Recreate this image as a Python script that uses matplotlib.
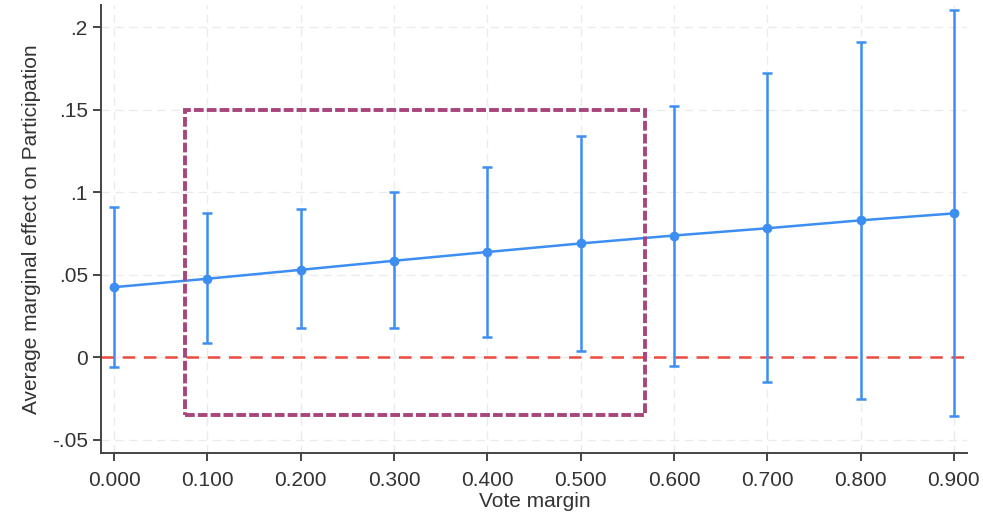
import matplotlib.pyplot as plt
from matplotlib.patches import Rectangle

plt.rcParams['font.family'] = ['Liberation Sans', 'DejaVu Sans']

# vote margin grid and the estimated average marginal effects with 95% CI
vote_margin = [0.0, 0.1, 0.2, 0.3, 0.4, 0.5, 0.6, 0.7, 0.8, 0.9]
ame = [0.0425, 0.0476, 0.0530, 0.0585, 0.0638, 0.0690, 0.0738, 0.0782, 0.0830, 0.0872]
ci_low = [-0.006, 0.0085, 0.0176, 0.0176, 0.012, 0.0036, -0.0055, -0.015, -0.0254, -0.0357]
ci_high = [0.0908, 0.0872, 0.0896, 0.1003, 0.1156, 0.1340, 0.1525, 0.1720, 0.1912, 0.2103]

x_ticks = [0.0, 0.1, 0.2, 0.3, 0.4, 0.5, 0.6, 0.7, 0.8, 0.9]
x_tick_labels = ["0.000", "0.100", "0.200", "0.300", "0.400", "0.500", "0.600", "0.700", "0.800", "0.900"]
y_ticks = [-0.05, 0, 0.05, 0.1, 0.15, 0.2]
y_tick_labels = ["-.05", "0", ".05", ".1", ".15", ".2"]

# highlighted region (vote margin range, effect range)
box_x = (0.076, 0.569)
box_y = (-0.035, 0.15)

fig = plt.figure(figsize=(9.83, 5.12), dpi=100)
ax = fig.add_axes([101 / 983, 59 / 512, 866 / 983, 448 / 512])

blue = '#3d8ef2'
err_low = [m - lo for m, lo in zip(ame, ci_low)]
err_high = [hi - m for m, hi in zip(ame, ci_high)]
ax.errorbar(vote_margin, ame, yerr=[err_low, err_high], color=blue, lw=1.8,
            elinewidth=1.8, capsize=3.5, capthick=1.8, marker='o', ms=6, zorder=3)

ax.axhline(0, color='#ec4b3f', lw=1.8, ls=(0, (5, 3.5)), zorder=2)

ax.add_patch(Rectangle((box_x[0], box_y[0]), box_x[1] - box_x[0], box_y[1] - box_y[0],
                       fill=False, edgecolor='#a8457c', lw=2.8, ls=(0, (2.5, 0.8)), zorder=4))

ax.set_xlim(-0.014, 0.914)
ax.set_ylim(-0.058, 0.2135)
ax.set_xticks(x_ticks)
ax.set_xticklabels(x_tick_labels)
ax.set_yticks(y_ticks)
ax.set_yticklabels(y_tick_labels)
ax.grid(True, color='#ebebeb', lw=1, ls=(0, (6, 4)))
ax.set_axisbelow(True)

for side in ['top', 'right']:
    ax.spines[side].set_visible(False)
for side in ['left', 'bottom']:
    ax.spines[side].set_color('#444444')
    ax.spines[side].set_linewidth(1.4)
ax.tick_params(colors='#444444', width=1.4, length=6, labelsize=15, labelcolor='#333333')
ax.tick_params(axis='x', pad=7)

ax.set_ylabel("Average marginal effect on Participation", fontsize=15, color='#333333')
ax.yaxis.set_label_coords(-60 / 866, 0.5)
fig.text(535 / 983, 1 / 512, "Vote margin", fontsize=15, color='#333333', ha='center', va='bottom')

fig.savefig('out.png', dpi=100)
